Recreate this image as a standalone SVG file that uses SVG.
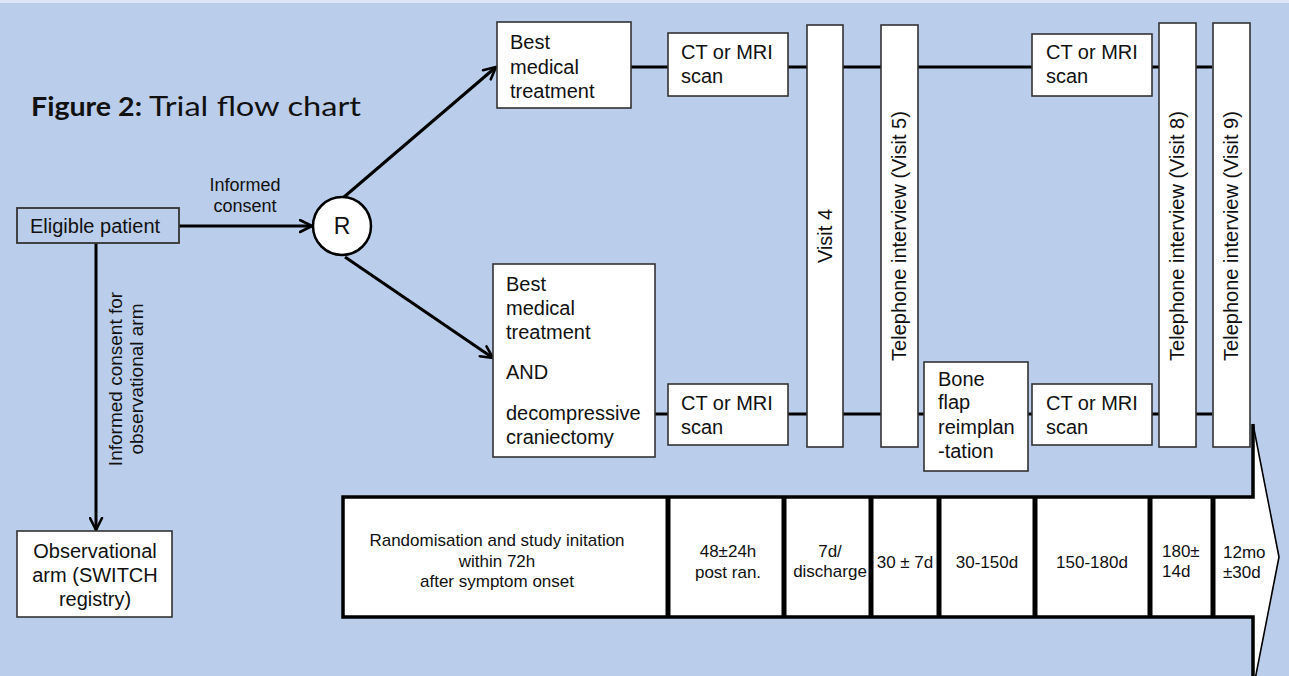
<svg xmlns="http://www.w3.org/2000/svg" width="1289" height="676" viewBox="0 0 1289 676">
<defs>
<style>
.t{font-family:"Liberation Sans",Arial,sans-serif;font-size:20px;fill:#111}
.s{font-family:"Liberation Sans",Arial,sans-serif;font-size:18px;fill:#111}
.r{font-family:"Liberation Sans",Arial,sans-serif;font-size:19px;fill:#111}
.m{font-family:"Liberation Sans",Arial,sans-serif;font-size:17px;fill:#111}
.big{font-size:23px}
.box{fill:#fff;stroke:#333;stroke-width:1.6}
.ln{stroke:#000;stroke-width:3;fill:none}
.c{text-anchor:middle}
</style>
<marker id="ah" viewBox="0 0 15 15" refX="13.5" refY="7.5" markerWidth="15" markerHeight="15" markerUnits="userSpaceOnUse" orient="auto">
<path d="M1.5,1.5 L13.5,7.5 L1.5,13.5" fill="none" stroke="#000" stroke-width="2.6" stroke-linecap="round" stroke-linejoin="round"/>
</marker>
</defs>
<rect x="0" y="0" width="1289" height="676" fill="#BACDEA"/>
<rect x="0" y="0" width="1289" height="3" fill="#DCE6F4"/>

<g id="title">
<text x="31" y="116" font-family="Lato,'Open Sans',sans-serif" font-size="27" font-weight="bold" fill="#111" textLength="111" lengthAdjust="spacingAndGlyphs">Figure 2:</text>
<text x="149" y="116" font-family="Lato,'Open Sans',sans-serif" font-size="27" fill="#111" textLength="212" lengthAdjust="spacingAndGlyphs">Trial flow chart</text>
</g>

<g id="connectors">
<line class="ln" x1="631" y1="67" x2="1212" y2="67"/>
<line class="ln" x1="655" y1="414" x2="1212" y2="414"/>
<line class="ln" x1="179" y1="226" x2="312" y2="226" marker-end="url(#ah)"/>
<line class="ln" x1="344" y1="197" x2="496" y2="67" marker-end="url(#ah)"/>
<line class="ln" x1="345" y1="257" x2="493" y2="358" marker-end="url(#ah)"/>
<line class="ln" x1="96" y1="243" x2="96" y2="530" marker-end="url(#ah)"/>
<text class="s c" x="245" y="191">Informed</text>
<text class="s c" x="245" y="212">consent</text>
<text class="r c" transform="translate(122,379) rotate(-90)">Informed consent for</text>
<text class="r c" transform="translate(143,379) rotate(-90)">observational arm</text>
</g>

<g id="eligible">
<rect x="17" y="208" width="162" height="35" fill="#BACDEA" stroke="#333" stroke-width="1.8"/>
<text class="t" x="30" y="233">Eligible patient</text>
</g>

<g id="R">
<circle cx="342" cy="226" r="29" fill="#fff" stroke="#000" stroke-width="2.5"/>
<text class="t c big" x="342" y="234">R</text>
</g>

<g id="observational">
<rect class="box" x="17" y="531" width="155" height="86"/>
<text class="t c" x="95" y="558">Observational</text>
<text class="t c" x="95" y="582">arm (SWITCH</text>
<text class="t c" x="95" y="606">registry)</text>
</g>

<g id="bmt">
<rect class="box" x="497" y="22" width="134" height="86"/>
<text class="t" x="510" y="49">Best</text>
<text class="t" x="510" y="74">medical</text>
<text class="t" x="510" y="98">treatment</text>
</g>

<g id="bmt-dc">
<rect class="box" x="493" y="264" width="162" height="193"/>
<text class="t" x="506" y="291">Best</text>
<text class="t" x="506" y="315">medical</text>
<text class="t" x="506" y="339">treatment</text>
<text class="t" x="506" y="379">AND</text>
<text class="t" x="506" y="420">decompressive</text>
<text class="t" x="506" y="444">craniectomy</text>
</g>

<g id="ct1">
<rect class="box" x="668" y="33" width="120" height="63"/>
<text class="t" x="681" y="59">CT or MRI</text>
<text class="t" x="681" y="83">scan</text>
</g>
<g id="ct2">
<rect class="box" x="1032" y="34" width="120" height="62"/>
<text class="t" x="1046" y="59">CT or MRI</text>
<text class="t" x="1046" y="83">scan</text>
</g>
<g id="ct3">
<rect class="box" x="668" y="384" width="120" height="61"/>
<text class="t" x="681" y="410">CT or MRI</text>
<text class="t" x="681" y="434">scan</text>
</g>
<g id="ct4">
<rect class="box" x="1032" y="384" width="120" height="61"/>
<text class="t" x="1046" y="410">CT or MRI</text>
<text class="t" x="1046" y="434">scan</text>
</g>

<g id="boneflap">
<rect class="box" x="924" y="362" width="104" height="109"/>
<text class="t" x="938" y="386">Bone</text>
<text class="t" x="938" y="409">flap</text>
<text class="t" x="938" y="434">reimplan</text>
<text class="t" x="938" y="458">-tation</text>
</g>

<g id="visit4">
<rect class="box" x="807" y="25" width="36" height="422"/>
<text class="t c" transform="translate(832,236) rotate(-90)">Visit 4</text>
</g>
<g id="visit5">
<rect class="box" x="881" y="25" width="37" height="422"/>
<text class="t c" transform="translate(906,236) rotate(-90)">Telephone interview (Visit 5)</text>
</g>
<g id="visit8">
<rect class="box" x="1159" y="23" width="37" height="424"/>
<text class="t c" transform="translate(1184,236) rotate(-90)">Telephone interview (Visit 8)</text>
</g>
<g id="visit9">
<rect class="box" x="1213" y="23" width="37" height="424"/>
<text class="t c" transform="translate(1238,236) rotate(-90)">Telephone interview (Visit 9)</text>
</g>

<g id="timeline">
<path d="M343,497 H1253 V424 L1279,557 L1253,690 V617 H343 Z" fill="#fff" stroke="none"/>
<path d="M1253,424 L1279,557 L1253,690" fill="none" stroke="#000" stroke-width="1.6"/>
<path d="M1253,424 V497 H343 V617 H1253 V690" fill="none" stroke="#000" stroke-width="3.5"/>
<g stroke="#000" stroke-width="5">
<line x1="668" y1="497" x2="668" y2="617"/>
<line x1="784" y1="497" x2="784" y2="617"/>
<line x1="871" y1="497" x2="871" y2="617"/>
<line x1="939" y1="497" x2="939" y2="617"/>
<line x1="1035" y1="497" x2="1035" y2="617"/>
<line x1="1150" y1="497" x2="1150" y2="617"/>
<line x1="1213" y1="497" x2="1213" y2="617"/>
</g>
<text class="m c" x="497" y="546">Randomisation and study initation</text>
<text class="m c" x="497" y="567">within 72h</text>
<text class="m c" x="497" y="587">after symptom onset</text>
<text class="m c" x="728" y="557">48±24h</text>
<text class="m c" x="728" y="578">post ran.</text>
<text class="m c" x="830" y="557">7d/</text>
<text class="m c" x="830" y="577">discharge</text>
<text class="m c" x="905" y="568">30 ± 7d</text>
<text class="m c" x="987" y="568">30-150d</text>
<text class="m c" x="1092" y="568">150-180d</text>
<text class="m" x="1162" y="557">180±</text>
<text class="m" x="1162" y="577">14d</text>
<text class="m" x="1223" y="558">12mo</text>
<text class="m" x="1223" y="578">±30d</text>
</g>
</svg>
